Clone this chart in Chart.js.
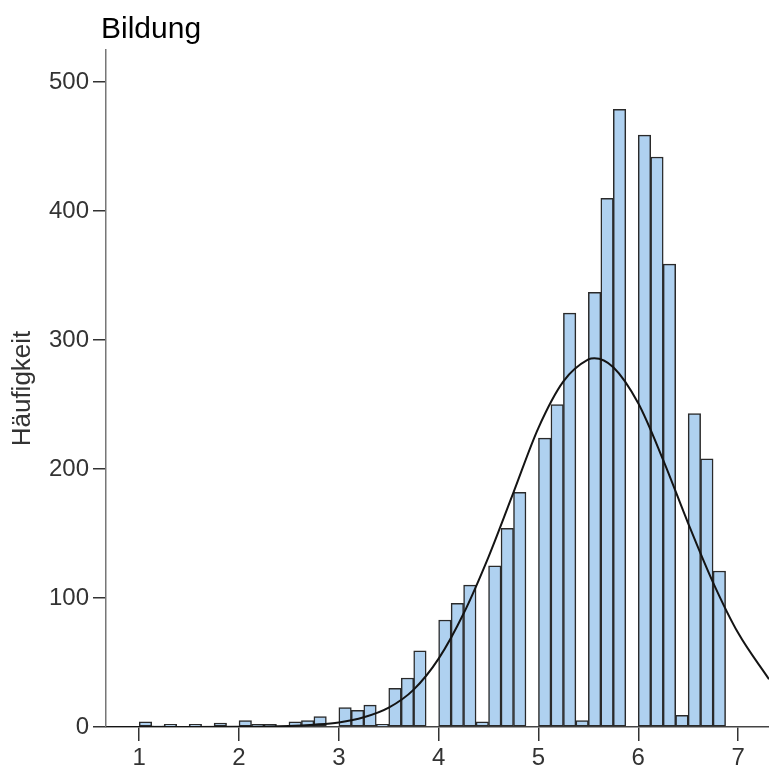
<!DOCTYPE html>
<html>
<head>
<meta charset="utf-8">
<script src="https://cdn.jsdelivr.net/npm/chart.js@4.4.0/dist/chart.umd.min.js"></script>
<style>
html,body{margin:0;padding:0;background:#ffffff;}
#wrap{width:769px;height:772px;}
</style>
</head>
<body>
<div id="wrap"><canvas id="c" width="769" height="772"></canvas></div>
<script>
// Histogram bins (lower edge of each bin) and frequencies
const binStarts = [1.000, 1.125, 1.250, 1.375, 1.500, 1.625, 1.750, 1.875,
                   2.000, 2.125, 2.250, 2.375, 2.500, 2.625, 2.750, 2.875,
                   3.000, 3.125, 3.250, 3.375, 3.500, 3.625, 3.750, 3.875,
                   4.000, 4.125, 4.250, 4.375, 4.500, 4.625, 4.750, 4.875,
                   5.000, 5.125, 5.250, 5.375, 5.500, 5.625, 5.750, 5.875,
                   6.000, 6.125, 6.250, 6.375, 6.500, 6.625, 6.750];
const counts    = [4, 1, 2, 0, 2, 0, 3, 0,
                   5, 2, 2, 0, 4, 5, 8, 0,
                   15, 13, 17, 2, 30, 38, 59, 0,
                   83, 96, 110, 4, 125, 154, 182, 0,
                   224, 250, 321, 5, 337, 410, 479, 0,
                   459, 442, 359, 9, 243, 208, 121];
const binWidth = 0.125;

// Normal curve, points
const curveX = [0.67, 1.5, 2.0, 2.5, 2.75, 3.0, 3.25, 3.5, 3.75, 4.0, 4.25, 4.5, 4.75,
                5.0, 5.25, 5.5, 5.56, 5.75, 6.0, 6.25, 6.5, 6.75, 7.0, 7.31];
const curveY = [0, 0, 0.1, 0.8, 1.8, 3.5, 7.5, 15, 29, 53, 88, 132, 182,
                232, 268, 285, 286, 279, 251, 207, 158, 112, 73, 37];

// Axis ticks
const xTicks = [1, 2, 3, 4, 5, 6, 7];
const yTicks = [0, 100, 200, 300, 400, 500];

const chartTitle = 'Bildung';
const yTitle = 'Häufigkeit';

const barData = binStarts.map((s, i) => ({x: s + binWidth / 2, y: counts[i]}));
const lineData = curveX.map((x, i) => ({x: x, y: curveY[i]}));

const FONT = 'Liberation Sans, Arial, sans-serif';

// Title drawn just left of the plot's y axis, as in the original
const titlePlugin = {
  id: 'leftTitle',
  afterDraw(chart) {
    const ctx = chart.ctx;
    ctx.save();
    ctx.fillStyle = '#000000';
    ctx.font = '30px ' + FONT;
    ctx.textAlign = 'left';
    ctx.textBaseline = 'alphabetic';
    ctx.fillText(chartTitle, chart.chartArea.left - 5, 38);
    ctx.restore();
  }
};

new Chart(document.getElementById('c'), {
  data: {
    datasets: [
      {
        type: 'line',
        data: lineData,
        borderColor: '#141414',
        borderWidth: 2,
        pointRadius: 0,
        fill: false,
        cubicInterpolationMode: 'monotone',
        order: 0
      },
      {
        type: 'bar',
        data: barData,
        backgroundColor: '#afd1f0',
        borderColor: '#2a2a2a',
        borderWidth: 1.5,
        borderSkipped: false,
        barPercentage: 1,
        categoryPercentage: 1,
        order: 1
      }
    ]
  },
  plugins: [titlePlugin],
  options: {
    responsive: false,
    animation: false,
    devicePixelRatio: 1,
    layout: {padding: {top: 50, left: 0, right: 0, bottom: 0}},
    plugins: {
      legend: {display: false},
      tooltip: {enabled: false},
      title: {display: false}
    },
    scales: {
      x: {
        type: 'linear',
        min: 0.667,
        max: 7.31,
        offset: false,
        afterBuildTicks: (s) => { s.ticks = xTicks.map(v => ({value: v})); },
        afterFit: (s) => { s.height = 45; },
        ticks: {
          autoSkip: false, maxRotation: 0, padding: 3,
          color: '#333333',
          font: {family: FONT, size: 24}
        },
        grid: {display: true, offset: false, drawOnChartArea: false, drawTicks: true, tickLength: 14, color: '#333333', lineWidth: 1.5},
        border: {display: true, color: '#444444', width: 1.5}
      },
      y: {
        type: 'linear',
        min: 0,
        max: 525,
        afterBuildTicks: (s) => { s.ticks = yTicks.map(v => ({value: v})); },
        afterFit: (s) => { s.width = 106; },
        ticks: {
          padding: 4,
          color: '#333333',
          font: {family: FONT, size: 24}
        },
        grid: {display: true, offset: false, drawOnChartArea: false, drawTicks: true, tickLength: 13, color: '#333333', lineWidth: 1.5},
        border: {display: true, color: '#777777', width: 1.5},
        title: {
          display: true,
          text: yTitle,
          color: '#333333',
          font: {family: FONT, size: 26},
          padding: {top: 7, bottom: 7}
        }
      }
    }
  }
});
</script>
</body>
</html>
